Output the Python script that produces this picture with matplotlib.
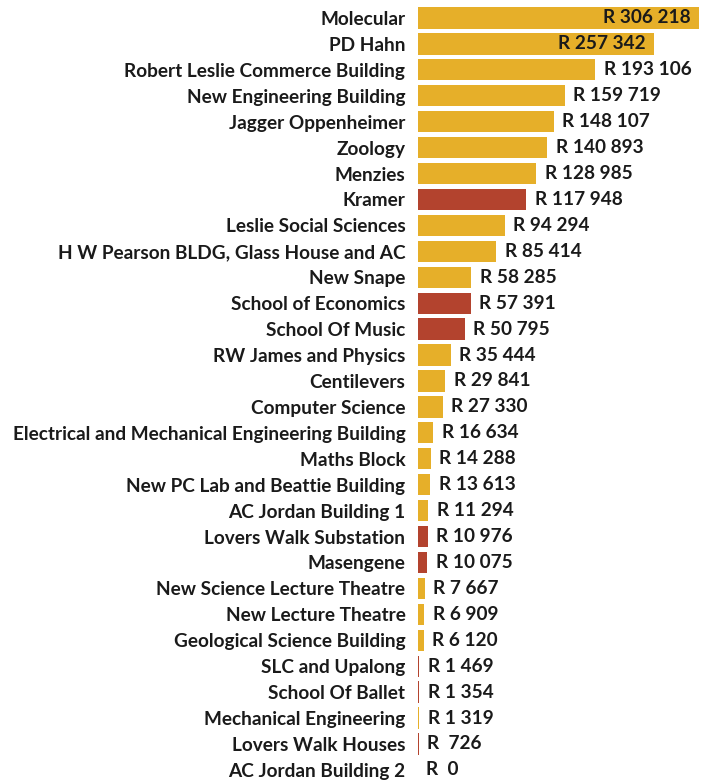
import matplotlib
matplotlib.use("Agg")
import matplotlib.pyplot as plt

# Building cost data (Rands)
buildings = [
    "Molecular", "PD Hahn", "Robert Leslie Commerce Building",
    "New Engineering Building", "Jagger Oppenheimer", "Zoology", "Menzies",
    "Kramer", "Leslie Social Sciences", "H W Pearson BLDG, Glass House and AC",
    "New Snape", "School of Economics", "School Of Music",
    "RW James and Physics", "Centilevers", "Computer Science",
    "Electrical and Mechanical Engineering Building", "Maths Block",
    "New PC Lab and Beattie Building", "AC Jordan Building 1",
    "Lovers Walk Substation", "Masengene", "New Science Lecture Theatre",
    "New Lecture Theatre", "Geological Science Building", "SLC and Upalong",
    "School Of Ballet", "Mechanical Engineering", "Lovers Walk Houses",
    "AC Jordan Building 2",
]
costs = [
    306218, 257342, 193106, 159719, 148107, 140893, 128985, 117948, 94294,
    85414, 58285, 57391, 50795, 35444, 29841, 27330, 16634, 14288, 13613,
    11294, 10976, 10075, 7667, 6909, 6120, 1469, 1354, 1319, 726, 0,
]
highlight = {
    "Kramer", "School of Economics", "School Of Music",
    "Lovers Walk Substation", "Masengene", "SLC and Upalong",
    "School Of Ballet", "Lovers Walk Houses",
}

YELLOW = "#E6AF29"
RED = "#B3432E"
FS = 13.7

plt.rcParams["font.family"] = ["Lato", "DejaVu Sans"]
plt.rcParams["font.weight"] = "bold"

fig = plt.figure(figsize=(7.06, 7.80), dpi=100)
ax = fig.add_axes([418 / 706, 0, 281 / 706, 775 / 780])

ypos = list(range(len(buildings)))
colors = [RED if b in highlight else YELLOW for b in buildings]
ax.barh(ypos, costs, height=0.82, color=colors, linewidth=0)

ax.set_xlim(0, max(costs))
ax.set_ylim(29.39, -0.5)

ax.set_yticks(ypos)
ax.set_yticklabels(buildings, fontsize=FS, fontweight="bold", color="#1a1a1a")
ax.tick_params(axis="y", length=0, pad=9)
ax.set_xticks([])
for s in ax.spines.values():
    s.set_visible(False)


def fmt(v):
    s = f"{v:,}".replace(",", " ")
    if v < 1000:
        return "R  " + s
    return "R " + s


for y, v in zip(ypos, costs):
    label = fmt(v)
    if v > 0.8 * max(costs):
        ax.annotate(label, (v, y), xytext=(-6, 0), textcoords="offset points",
                    ha="right", va="center", fontsize=FS, fontweight="bold",
                    color="#1a1a1a")
    else:
        ax.annotate(label, (v, y), xytext=(6, 0), textcoords="offset points",
                    ha="left", va="center", fontsize=FS, fontweight="bold",
                    color="#1a1a1a", annotation_clip=False)

fig.savefig("out.png", dpi=100)
